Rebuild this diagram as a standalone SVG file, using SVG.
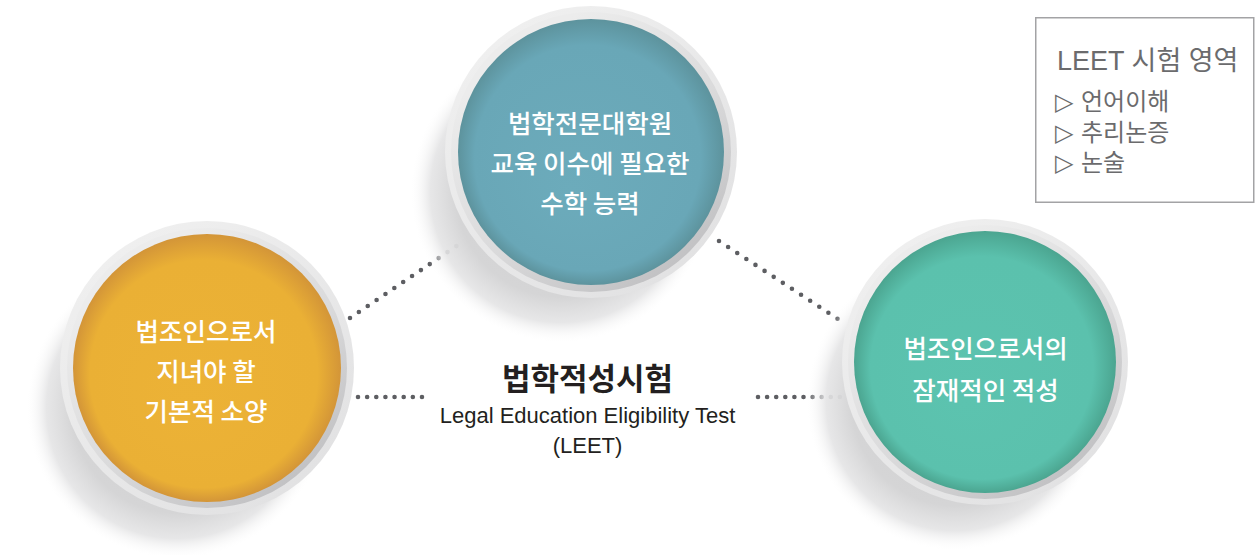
<svg xmlns="http://www.w3.org/2000/svg" width="1255" height="555" viewBox="0 0 1255 555">
<defs>
<style>
.ct{font-family:"Noto Sans CJK KR","Liberation Sans",sans-serif;font-size:25.5px;font-weight:500;fill:#ffffff;text-anchor:middle}
.dots{fill:none;stroke:#5d5e62;stroke-width:4.6;stroke-linecap:round}
.lg{font-family:"Liberation Sans","Noto Sans CJK KR",sans-serif;fill:#6b6b6d}
.tri{font-family:"DejaVu Sans",sans-serif;font-size:24px;fill:#6b6b6d}
</style>
<radialGradient id="shadow" cx="0.5" cy="0.5" r="0.5">
<stop offset="0" stop-color="#cfcfd0"/>
<stop offset="0.7" stop-color="#d5d5d6"/>
<stop offset="0.87" stop-color="#e4e4e5" stop-opacity="0.9"/>
<stop offset="1" stop-color="#fbfbfb" stop-opacity="0"/>
</radialGradient>
<linearGradient id="ringOuter" x1="0.2" y1="0.1" x2="0.8" y2="0.9">
<stop offset="0" stop-color="#efefef"/>
<stop offset="1" stop-color="#e2e2e3"/>
</linearGradient>
<linearGradient id="ringInner" x1="0.25" y1="0.15" x2="0.8" y2="0.9">
<stop offset="0" stop-color="#ececec"/>
<stop offset="0.55" stop-color="#dadadb"/>
<stop offset="1" stop-color="#c2c2c4"/>
</linearGradient>
<radialGradient id="gTeal" cx="0.5" cy="0.5" r="0.5" fx="0.42" fy="0.65">
<stop offset="0" stop-color="#6cabbb"/>
<stop offset="0.85" stop-color="#69a7b7"/>
<stop offset="1" stop-color="#5d939d"/>
</radialGradient>
<radialGradient id="gOrange" cx="0.5" cy="0.5" r="0.5" fx="0.42" fy="0.65">
<stop offset="0" stop-color="#ecb236"/>
<stop offset="0.85" stop-color="#eab035"/>
<stop offset="1" stop-color="#d39538"/>
</radialGradient>
<radialGradient id="gGreen" cx="0.5" cy="0.5" r="0.5" fx="0.42" fy="0.65">
<stop offset="0" stop-color="#5cc3af"/>
<stop offset="0.85" stop-color="#5bc1ad"/>
<stop offset="1" stop-color="#4ba590"/>
</radialGradient>
</defs>
<rect width="1255" height="555" fill="#ffffff"/>

<g id="connectors">
<line class="dots" x1="350" y1="318" x2="461" y2="243" stroke-dasharray="0 10.7"/>
<line class="dots" x1="719" y1="241" x2="838" y2="319" stroke-dasharray="0 10.9"/>
<line class="dots" x1="358" y1="397" x2="422" y2="397" stroke-dasharray="0 9.14"/>
<line class="dots" x1="758" y1="397" x2="840" y2="397" stroke-dasharray="0 9.1"/>
</g>

<g id="shadows">
<circle cx="561" cy="192" r="150" fill="url(#shadow)"/>
<circle cx="177" cy="408" r="150" fill="url(#shadow)"/>
<circle cx="955" cy="402" r="148" fill="url(#shadow)"/>
</g>

<g id="node-top">
<circle cx="591" cy="152" r="146" fill="url(#ringOuter)"/>
<circle cx="591" cy="152" r="140" fill="url(#ringInner)"/>
<circle cx="591" cy="152" r="133" fill="url(#gTeal)"/>
<text class="ct" x="590" y="133">법학전문대학원</text>
<text class="ct" x="590" y="173">교육 이수에 필요한</text>
<text class="ct" x="590" y="213">수학 능력</text>
</g>

<g id="node-left">
<circle cx="207" cy="368" r="147" fill="url(#ringOuter)"/>
<circle cx="207" cy="368" r="140" fill="url(#ringInner)"/>
<circle cx="207" cy="368" r="134" fill="url(#gOrange)"/>
<text class="ct" x="206" y="341">법조인으로서</text>
<text class="ct" x="206" y="381">지녀야 할</text>
<text class="ct" x="206" y="421">기본적 소양</text>
</g>

<g id="node-right">
<circle cx="985" cy="362" r="143" fill="url(#ringOuter)"/>
<circle cx="985" cy="362" r="137" fill="url(#ringInner)"/>
<circle cx="985" cy="362" r="131" fill="url(#gGreen)"/>
<text class="ct" x="985.5" y="358">법조인으로서의</text>
<text class="ct" x="985.5" y="400">잠재적인 적성</text>
</g>

<g id="node-center">
<text x="587.5" y="390" text-anchor="middle" font-family="Noto Sans CJK KR, sans-serif" font-size="31" font-weight="bold" fill="#231f20">법학적성시험</text>
<text x="587.5" y="423" text-anchor="middle" font-family="Liberation Sans, Arial, sans-serif" font-size="22" fill="#231f20">Legal Education Eligibility Test</text>
<text x="587.5" y="453" text-anchor="middle" font-family="Liberation Sans, Arial, sans-serif" font-size="22" fill="#231f20">(LEET)</text>
</g>

<g id="legend">
<rect x="1035.75" y="17.75" width="218" height="184.5" fill="#ffffff" stroke="#a3a3a5" stroke-width="1.5"/>
<text class="lg" x="1057" y="70" font-size="27">LEET 시험 영역</text>
<text class="tri" x="1055" y="110">▷</text>
<text class="lg" x="1081" y="110" font-size="24">언어이해</text>
<text class="tri" x="1055" y="141">▷</text>
<text class="lg" x="1081" y="141" font-size="24">추리논증</text>
<text class="tri" x="1055" y="171">▷</text>
<text class="lg" x="1081" y="171" font-size="24">논술</text>
</g>
</svg>
